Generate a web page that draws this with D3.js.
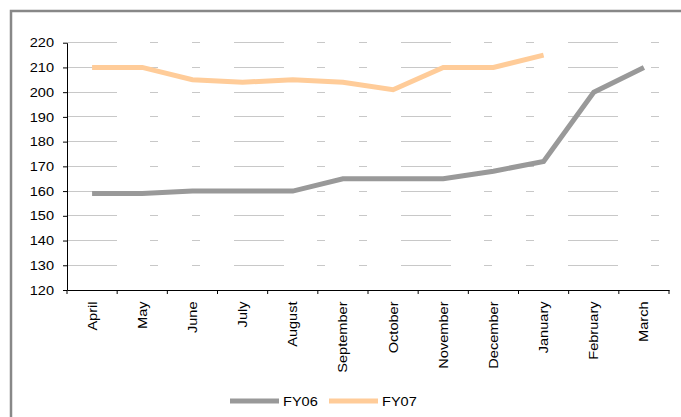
<!DOCTYPE html>
<html><head><meta charset="utf-8">
<script src="https://cdn.jsdelivr.net/npm/d3@7"></script>
<style>body{margin:0;background:#fff}svg{display:block}text{font-family:"Liberation Sans",Arial,sans-serif}</style>
</head><body><svg id="c" width="681" height="417"></svg>
<script>
const categories=["April","May","June","July","August","September","October","November","December","January","February","March"];
const fy06=[159,159,160,160,160,165,165,165,168,172,200,210];
const fy07=[210,210,205,204,205,204,201,210,210,215];
const yTicks=[120,130,140,150,160,170,180,190,200,210,220];
const seriesNames=["FY06","FY07"];
const colors=["#999999","#ffcc99"];
const SX=1.12;

const svg=d3.select("#c");
svg.append("rect").attr("x",11).attr("y",11).attr("width",680).attr("height",420)
  .attr("fill","#fff").attr("stroke","#888").attr("stroke-width",2.5);

const L=67,R=669,T=42.7,B=290;
const x=d3.scaleBand().domain(categories).range([L,R]);
const y=d3.scaleLinear().domain([120,220]).range([B,T]);

// grid
svg.append("g").selectAll("line").data(yTicks.filter(d=>d>120)).join("line")
  .attr("x1",L).attr("x2",R).attr("y1",d=>y(d)).attr("y2",d=>y(d))
  .attr("stroke","#c8c8c8").attr("stroke-width",1)
  .attr("stroke-dasharray","50,33,8,34,8,34").attr("shape-rendering","crispEdges");

// y axis
const ya=svg.append("g").attr("transform",`translate(${L},0)`)
  .call(d3.axisLeft(y).tickValues(yTicks).tickSize(4).tickSizeOuter(0));
ya.select(".domain").attr("stroke","#000");
ya.selectAll(".tick line").attr("stroke","#000");
ya.selectAll(".tick text").attr("font-size",13).attr("fill","#000")
  .attr("x",-13/SX).attr("transform",`scale(${SX},1)`);

// x axis
const xa=svg.append("g").attr("transform",`translate(0,${B})`)
  .call(d3.axisBottom(x).tickSize(0).tickSizeOuter(0));
xa.select(".domain").attr("stroke","#000");
xa.selectAll(".tick text").attr("font-size",13).attr("fill","#000")
  .attr("transform",`rotate(-90) scale(${SX},1)`).attr("text-anchor","end")
  .attr("x",-11.5/SX).attr("y",0).attr("dy","0.35em");
const bounds=categories.map(c=>x(c)).concat([R]);
svg.append("g").selectAll("line").data(bounds).join("line")
  .attr("x1",d=>d).attr("x2",d=>d).attr("y1",B).attr("y2",B+4).attr("stroke","#000");

// lines
const line=d3.line().x((d,i)=>x(categories[i])+x.bandwidth()/2).y(d=>y(d));
[fy06,fy07].forEach((s,k)=>{
  svg.append("path").datum(s).attr("d",line).attr("fill","none")
    .attr("stroke",colors[k]).attr("stroke-width",5).attr("stroke-linejoin","miter");
});

// legend
const lg=[230,329];
seriesNames.forEach((n,k)=>{
  const g=svg.append("g");
  g.append("line").attr("x1",lg[k]).attr("x2",lg[k]+49).attr("y1",401).attr("y2",401)
    .attr("stroke",colors[k]).attr("stroke-width",5);
  g.append("text").attr("x",(lg[k]+53)/SX).attr("y",401).attr("dy","0.35em")
    .attr("transform",`scale(${SX},1)`).attr("font-size",13).text(n);
});
</script></body></html>
